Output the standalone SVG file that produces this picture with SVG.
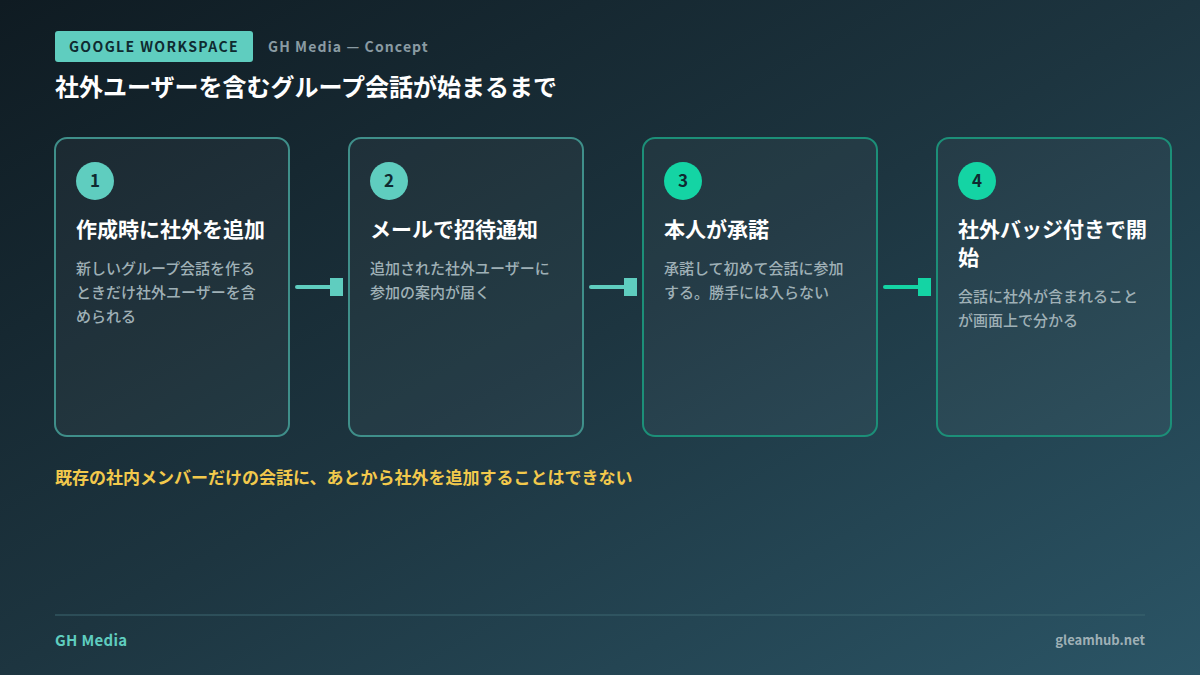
<svg xmlns="http://www.w3.org/2000/svg" width="1200" height="675" viewBox="0 0 1200 675">
<defs>
<linearGradient id="bg" x1="0" y1="0" x2="1" y2="1">
<stop offset="0" stop-color="#0f1b22"/>
<stop offset="0.5" stop-color="#1d3540"/>
<stop offset="1" stop-color="#2b5566"/>
</linearGradient>
<style>
text{font-family:"Noto Sans CJK JP","Noto Sans",sans-serif;}
.card{fill:#ffffff;fill-opacity:0.04;stroke-width:2;}
.c1{stroke:#3f8f8a;}
.c2{stroke:#1c8f78;}
.num{font-size:17px;font-weight:700;fill:#0f2a30;text-anchor:middle;}
.ttl{font-size:21px;font-weight:700;fill:#ffffff;}
.dsc{font-size:15px;font-weight:500;fill:#9fb0b6;}
</style>
</defs>
<rect width="1200" height="675" fill="url(#bg)"/>
<g id="header">
<rect x="55" y="31" width="198" height="31" rx="3" fill="#5fcdbf"/>
<text x="154" y="52" font-size="14" font-weight="700" fill="#0f2a30" text-anchor="middle" letter-spacing="1.4">GOOGLE WORKSPACE</text>
<text x="268" y="52" font-size="14" font-weight="700" fill="#8a9ba3" letter-spacing="1.1">GH Media — Concept</text>
<text x="55" y="96" font-size="24" font-weight="700" fill="#ffffff">社外ユーザーを含むグループ会話が始まるまで</text>
</g>
<g id="node1">
<rect class="card c1" x="55" y="138" width="234" height="298" rx="12"/>
<circle cx="95" cy="181" r="19" fill="#5fcdbf"/>
<text class="num" x="95" y="187">1</text>
<text class="ttl" x="76" y="237">作成時に社外を追加</text>
<text class="dsc" x="76" y="274">新しいグループ会話を作る</text>
<text class="dsc" x="76" y="298">ときだけ社外ユーザーを含</text>
<text class="dsc" x="76" y="322">められる</text>
</g>
<g id="node2">
<rect class="card c1" x="349" y="138" width="234" height="298" rx="12"/>
<circle cx="389" cy="181" r="19" fill="#5fcdbf"/>
<text class="num" x="389" y="187">2</text>
<text class="ttl" x="370" y="237">メールで招待通知</text>
<text class="dsc" x="370" y="274">追加された社外ユーザーに</text>
<text class="dsc" x="370" y="298">参加の案内が届く</text>
</g>
<g id="node3">
<rect class="card c2" x="643" y="138" width="234" height="298" rx="12"/>
<circle cx="683" cy="181" r="19" fill="#14d4a4"/>
<text class="num" x="683" y="187">3</text>
<text class="ttl" x="664" y="237">本人が承諾</text>
<text class="dsc" x="664" y="274">承諾して初めて会話に参加</text>
<text class="dsc" x="664" y="298">する。勝手には入らない</text>
</g>
<g id="node4">
<rect class="card c2" x="937" y="138" width="234" height="298" rx="12"/>
<circle cx="977" cy="181" r="19" fill="#14d4a4"/>
<text class="num" x="977" y="187">4</text>
<text class="ttl" x="958" y="237">社外バッジ付きで開</text>
<text class="ttl" x="958" y="265">始</text>
<text class="dsc" x="958" y="302">会話に社外が含まれること</text>
<text class="dsc" x="958" y="326">が画面上で分かる</text>
</g>
<g id="connectors">
<line x1="297" y1="287" x2="332" y2="287" stroke="#5fcdbf" stroke-width="4" stroke-linecap="round"/>
<rect x="330" y="278" width="13" height="18" fill="#5fcdbf"/>
<line x1="591" y1="287" x2="626" y2="287" stroke="#5fcdbf" stroke-width="4" stroke-linecap="round"/>
<rect x="624" y="278" width="13" height="18" fill="#5fcdbf"/>
<line x1="885" y1="287" x2="920" y2="287" stroke="#14d4a4" stroke-width="4" stroke-linecap="round"/>
<rect x="918" y="278" width="13" height="18" fill="#14d4a4"/>
</g>
<text x="55" y="484" font-size="17" font-weight="700" fill="#f2c94c">既存の社内メンバーだけの会話に、あとから社外を追加することはできない</text>
<g id="footer">
<line x1="55" y1="615" x2="1145" y2="615" stroke="#3d6670" stroke-width="1"/>
<text x="55" y="646" font-size="15" font-weight="700" fill="#5fcdbf" letter-spacing="0.3">GH Media</text>
<text x="1145" y="645" font-size="13" font-weight="700" fill="#9fb0b6" text-anchor="end">gleamhub.net</text>
</g>
</svg>
